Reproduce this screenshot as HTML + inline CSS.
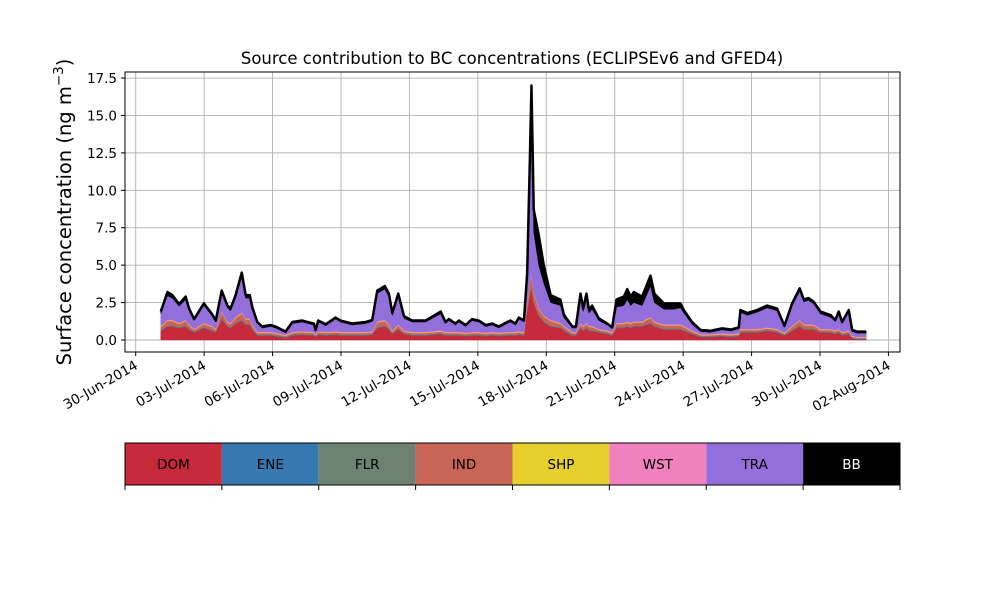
<!DOCTYPE html>
<html><head><meta charset="utf-8">
<style>
body{margin:0;background:#fff;}
svg{display:block;font-family:"DejaVu Sans","Liberation Sans",sans-serif;}
</style></head>
<body>
<svg id="chart" width="1000" height="600" viewBox="0 0 1000 600">
<rect width="1000" height="600" fill="#fff"/>
<text x="512" y="64" text-anchor="middle" font-size="16.5">Source contribution to BC concentrations (ECLIPSEv6 and GFED4)</text>
<text transform="translate(71,212) rotate(-90)" text-anchor="middle" font-size="19.5">Surface concentration (ng m<tspan baseline-shift="super" font-size="13.5">−3</tspan>)</text>
<g id="grid"></g>
<g id="areas"></g>
<g id="axes"></g>
<g id="legend"></g>
</svg>
<script>
const days = [1.10,1.39,1.61,1.90,2.19,2.34,2.56,2.99,3.36,3.51,3.77,4.02,4.16,4.38,4.65,4.82,5.00,5.11,5.33,5.55,5.92,6.13,6.57,6.87,7.30,7.81,7.89,8.00,8.33,8.76,8.98,9.50,10.08,10.37,10.59,10.92,11.10,11.25,11.51,11.76,12.12,12.71,13.37,13.58,13.73,14.02,14.17,14.46,14.75,15.04,15.34,15.63,15.92,16.28,16.43,16.65,16.80,17.02,17.16,17.28,17.35,17.45,17.67,17.89,18.19,18.62,18.77,19.14,19.30,19.50,19.62,19.76,19.87,20.01,20.30,20.67,20.89,21.08,21.40,21.55,21.70,21.84,22.20,22.57,22.74,22.93,23.15,23.59,23.88,24.03,24.39,24.76,25.20,25.71,26.10,26.44,26.51,26.81,27.24,27.68,28.12,28.44,28.78,29.11,29.29,29.50,29.72,30.02,30.46,30.67,30.82,30.97,31.26,31.41,31.62,32.03];
const DOM = [.6,.9,.9,.8,.9,.7,.5,.8,.6,.5,1.4,.9,.8,1.1,1.3,1.0,1.0,.7,.3,.3,.3,.25,.15,.3,.35,.3,.2,.35,.3,.35,.3,.3,.3,.35,.8,.9,.7,.4,.7,.4,.3,.3,.4,.3,.3,.3,.3,.25,.3,.3,.25,.3,.25,.3,.3,.3,.35,.3,2.0,3.0,3.5,2.5,1.6,1.2,.9,.8,.6,.3,.3,.8,.6,.8,.6,.6,.5,.4,.3,.8,.8,.9,.8,.9,.9,1.1,.9,.8,.7,.7,.7,.6,.4,.2,.2,.25,.2,.25,.5,.5,.5,.6,.5,.3,.6,.9,.7,.7,.7,.5,.5,.4,.5,.3,.4,.1,.05,.05];
const ENE = [.03,.03,.03,.03,.03,.03,.03,.03,.03,.03,.03,.03,.03,.03,.03,.03,.03,.03,.03,.03,.03,.03,.03,.03,.03,.03,.03,.03,.03,.03,.03,.03,.03,.03,.03,.03,.03,.03,.03,.03,.03,.03,.03,.03,.03,.03,.03,.03,.03,.03,.03,.03,.03,.03,.03,.03,.03,.03,.03,.03,.03,.03,.03,.03,.03,.03,.03,.03,.03,.03,.03,.03,.03,.03,.03,.03,.03,.03,.03,.03,.03,.03,.03,.03,.03,.03,.03,.03,.03,.03,.03,.03,.03,.03,.03,.03,.03,.03,.03,.03,.03,.03,.03,.03,.03,.03,.03,.03,.03,.03,.03,.03,.03,.03,.03,.03];
const FLR = [.04,.04,.04,.04,.04,.04,.04,.04,.04,.04,.04,.04,.04,.04,.04,.04,.04,.04,.04,.04,.04,.04,.04,.04,.04,.04,.04,.04,.04,.04,.04,.04,.04,.04,.04,.04,.04,.04,.04,.04,.04,.04,.04,.04,.04,.04,.04,.04,.04,.04,.04,.04,.04,.04,.04,.04,.04,.04,.04,.04,.04,.04,.04,.04,.04,.04,.04,.04,.04,.04,.04,.04,.04,.04,.04,.04,.04,.04,.04,.04,.04,.04,.04,.04,.04,.04,.04,.04,.04,.04,.04,.04,.04,.04,.04,.04,.04,.04,.04,.04,.04,.04,.04,.04,.04,.04,.04,.04,.04,.04,.04,.04,.04,.04,.04,.04];
const IND = [.2,.3,.3,.2,.3,.2,.1,.2,.2,.1,.4,.2,.2,.3,.4,.3,.3,.2,.1,.1,.1,.1,.05,.1,.1,.1,.05,.1,.1,.1,.1,.1,.1,.1,.3,.3,.2,.1,.2,.1,.1,.1,.1,.1,.1,.1,.1,.1,.1,.1,.1,.1,.1,.1,.1,.1,.1,.1,.4,.7,.8,.6,.4,.3,.3,.2,.2,.1,.1,.2,.2,.2,.2,.2,.1,.1,.1,.2,.2,.2,.2,.2,.2,.3,.2,.2,.2,.2,.2,.2,.1,.05,.05,.05,.05,.05,.1,.1,.1,.1,.1,.05,.2,.3,.2,.2,.2,.1,.1,.1,.1,.1,.1,.05,.02,.02];
const SHP = [.03,.03,.03,.03,.03,.03,.03,.03,.03,.03,.03,.03,.03,.03,.03,.03,.03,.03,.03,.03,.03,.03,.03,.03,.03,.03,.03,.03,.03,.03,.03,.03,.03,.03,.03,.03,.03,.03,.03,.03,.03,.03,.03,.03,.03,.03,.03,.03,.03,.03,.03,.03,.03,.03,.03,.03,.03,.03,.03,.03,.03,.03,.03,.03,.03,.03,.03,.03,.03,.03,.03,.03,.03,.03,.03,.03,.03,.03,.03,.03,.03,.03,.03,.03,.03,.03,.03,.03,.03,.03,.03,.03,.03,.03,.03,.03,.03,.03,.03,.03,.03,.03,.03,.03,.03,.03,.03,.03,.03,.03,.03,.03,.03,.03,.03,.03];
const WST = [.05,.05,.05,.05,.05,.05,.05,.05,.05,.05,.05,.05,.05,.05,.05,.05,.05,.05,.05,.05,.05,.05,.05,.05,.05,.05,.05,.05,.05,.05,.05,.05,.05,.05,.05,.05,.05,.05,.05,.05,.05,.05,.05,.05,.05,.05,.05,.05,.05,.05,.05,.05,.05,.05,.05,.05,.05,.05,.05,.05,.05,.05,.05,.05,.05,.05,.05,.05,.05,.05,.05,.05,.05,.05,.05,.05,.05,.05,.05,.05,.05,.05,.05,.05,.05,.05,.05,.05,.05,.05,.05,.05,.05,.05,.05,.05,.05,.05,.05,.05,.05,.05,.05,.05,.05,.05,.05,.05,.05,.05,.05,.05,.05,.05,.05,.05];
const TRA = [.8,1.6,1.45,1.1,1.35,.9,.55,1.15,.65,.45,1.15,.9,.8,1.25,2.4,1.35,1.35,1.0,.55,.25,.35,.3,.13,.55,.6,.45,.19,.6,.4,.8,.65,.45,.55,.64,1.85,2.05,1.85,1.0,1.85,.8,.65,.65,1.1,.55,.75,.45,.65,.4,.75,.65,.4,.45,.3,.55,.65,.45,.8,.65,1.55,7.65,11.95,3.95,2.85,2.15,1.15,1.15,.55,.25,.25,1.65,.95,1.65,.85,1.1,.55,.35,.2,1.05,1.15,1.45,1.15,1.25,1.05,2.05,1.25,1.15,1.0,1.0,1.1,.85,.4,.17,.12,.23,.2,.3,1.1,.9,1.1,1.3,1.2,.35,1.35,1.9,1.5,1.6,1.36,1.0,.77,.59,1.0,.55,1.2,.27,.24,.24];
const BB = [.15,.25,.2,.15,.2,.15,.1,.15,.1,.1,.2,.15,.15,.2,.25,.2,.2,.15,.1,.1,.1,.1,.08,.1,.1,.1,.08,.1,.1,.1,.1,.1,.1,.1,.2,.2,.2,.15,.2,.15,.1,.1,.15,.1,.1,.1,.1,.1,.1,.1,.1,.1,.1,.1,.1,.1,.1,.1,.3,.5,.6,1.5,2.0,1.2,.5,.4,.2,.1,.1,.3,.2,.3,.2,.25,.15,.1,.1,.5,.6,.7,.6,.7,.6,.7,.6,.5,.4,.4,.3,.2,.15,.1,.1,.1,.1,.1,.15,.15,.15,.15,.15,.1,.15,.2,.15,.15,.15,.15,.15,.1,.15,.1,.15,.1,.1,.1];
const seriesNames = ["DOM","ENE","FLR","IND","SHP","WST","TRA","BB"];
const seriesColors = ["#c62a3b","#3778b0","#6e8070","#c86556","#e7cf2e","#f080bf","#936fdb","#000000"];
const yTicks = [0,2.5,5,7.5,10,12.5,15,17.5];
const xTickDays = [0,3,6,9,12,15,18,21,24,27,30,33];
const xTickLabels = ["30-Jun-2014","03-Jul-2014","06-Jul-2014","09-Jul-2014","12-Jul-2014","15-Jul-2014","18-Jul-2014","21-Jul-2014","24-Jul-2014","27-Jul-2014","30-Jul-2014","02-Aug-2014"];

const NS="http://www.w3.org/2000/svg";
const L=125,R=900,T=72,B=352;
const xs=d=>135.7+d*22.81;
const ys=v=>340-v*14.97;
function mk(tag,attrs,parent){const e=document.createElementNS(NS,tag);for(const k in attrs)e.setAttribute(k,attrs[k]);parent.appendChild(e);return e;}

const grid=document.getElementById('grid');
yTicks.forEach(v=>{const l=mk('line',{x1:L,x2:R,y1:ys(v),y2:ys(v),stroke:'#b0b0b0','stroke-width':0.9},grid);

});
xTickDays.forEach(d=>{const l=mk('line',{x1:xs(d),x2:xs(d),y1:T,y2:B,stroke:'#b0b0b0','stroke-width':0.9},grid);

});

const all=[DOM,ENE,FLR,IND,SHP,WST,TRA,BB];
const areas=document.getElementById('areas');
let lower=days.map(()=>0);
all.forEach((s,i)=>{
  const upper=lower.map((v,j)=>v+s[j]);
  let pts=days.map((d,j)=>xs(d)+','+ys(upper[j]));
  for(let j=days.length-1;j>=0;j--)pts.push(xs(days[j])+','+ys(lower[j]));
  const p=mk('polygon',{points:pts.join(' '),fill:seriesColors[i],stroke:seriesColors[i],'stroke-width':0.5},areas);
  
  
  if(i===all.length-1){
    const top=mk('polyline',{points:days.map((d,j)=>xs(d)+','+ys(upper[j])).join(' '),fill:'none',stroke:'#000','stroke-width':2.5,'stroke-linejoin':'round'},areas);
    
    
  }
  lower=upper;
});

const axes=document.getElementById('axes');
const fr=mk('rect',{x:L,y:T,width:R-L,height:B-T,fill:'none',stroke:'#000','stroke-width':1},axes);


yTicks.forEach(v=>{
  const t=mk('line',{x1:L-4,x2:L,y1:ys(v),y2:ys(v),stroke:'#000'},axes);
  
  
  const tx=mk('text',{x:L-8,y:ys(v)+5,'text-anchor':'end','font-size':13.5},axes);
  tx.textContent=v.toFixed(1);
  
  
});
xTickDays.forEach((d,i)=>{
  const t=mk('line',{x1:xs(d),x2:xs(d),y1:B,y2:B+4,stroke:'#000'},axes);
  
  
  const tx=mk('text',{transform:`translate(${xs(d)+3},${B+16}) rotate(-30)`,'text-anchor':'end','font-size':13.5},axes);
  tx.textContent=xTickLabels[i];
  
  
});

const lg=document.getElementById('legend');
const cw=(R-L)/seriesNames.length;
seriesNames.forEach((n,i)=>{
  const r=mk('rect',{x:L+i*cw,y:443,width:cw,height:42,fill:seriesColors[i]},lg);
  
  
  const t=mk('text',{x:L+i*cw+cw/2,y:469,'text-anchor':'middle','font-size':13.5,fill:n==='BB'?'#fff':'#000'},lg);
  t.textContent=n;
  
  
});
for(let i=0;i<=seriesNames.length;i++){
  const t=mk('line',{x1:L+i*cw,x2:L+i*cw,y1:485,y2:490,stroke:'#000'},lg);
  
  
}
const lf=mk('rect',{x:L,y:443,width:R-L,height:42,fill:'none',stroke:'#000','stroke-width':1},lg);


</script>
</body></html>
